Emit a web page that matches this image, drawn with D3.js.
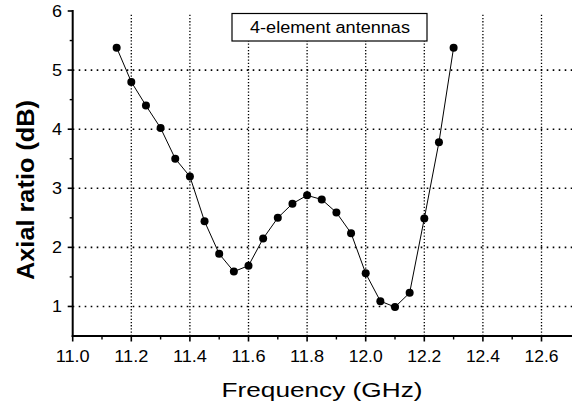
<!DOCTYPE html>
<html>
<head>
<meta charset="utf-8">
<script src="https://cdn.jsdelivr.net/npm/d3@7"></script>
<style>
  body { margin: 0; background: #fff; }
  text { font-family: Arial, "Liberation Sans", sans-serif; fill: #000; }
</style>
</head>
<body>
<svg id="chart" width="572" height="410"></svg>
<script>
// measured data: frequency (GHz) vs axial ratio (dB)
const freq = [11.15, 11.2, 11.25, 11.3, 11.35, 11.4, 11.45, 11.5, 11.55, 11.6,
  11.65, 11.7, 11.75, 11.8, 11.85, 11.9, 11.95, 12.0, 12.05, 12.1,
  12.15, 12.2, 12.25, 12.3];
const axialRatio = [5.38, 4.8, 4.4, 4.02, 3.5, 3.2, 2.44, 1.89, 1.59, 1.69,
  2.15, 2.5, 2.74, 2.88, 2.81, 2.59, 2.24, 1.56, 1.09, 0.99,
  1.23, 2.49, 3.78, 5.38];
const xTicks = [11.0, 11.2, 11.4, 11.6, 11.8, 12.0, 12.2, 12.4, 12.6];
const yTicks = [1, 2, 3, 4, 5, 6];
const legendLabel = "4-element antennas";

const svg = d3.select("#chart");
const margins = { left: 72.7, top: 11, right: 0, bottom: 74 };
const width = 572, height = 410;

const x = d3.scaleLinear().domain([11.0, 12.7]).range([margins.left, margins.left + 1.7 * 293]);
const y = d3.scaleLinear().domain([0.5, 6]).range([336, margins.top]);

// gridlines
const grid = svg.append("g").attr("stroke", "#000").attr("fill", "none");
grid.selectAll("line.h")
  .data(yTicks.filter(d => d < 6))
  .join("line")
  .attr("class", "h")
  .attr("x1", x(11.0)).attr("x2", width)
  .attr("y1", d => y(d)).attr("y2", d => y(d))
  .attr("stroke-width", 1.6)
  .attr("stroke-dasharray", "1.6,4.4");
grid.selectAll("line.v")
  .data(xTicks.filter(d => d > 11.0))
  .join("line")
  .attr("class", "v")
  .attr("x1", d => x(d)).attr("x2", d => x(d))
  .attr("y1", y(0.5)).attr("y2", 13)
  .attr("stroke-width", 1.3)
  .attr("stroke-dasharray", "1.3,1.9");

// legend box
const box = svg.append("g");
box.append("rect")
  .attr("x", 232).attr("y", 13.5).attr("width", 195).attr("height", 27.5)
  .attr("fill", "#fff").attr("stroke", "#000").attr("stroke-width", 1.2);
box.append("text")
  .attr("x", 330).attr("y", 33)
  .attr("text-anchor", "middle")
  .attr("font-size", 16)
  .attr("textLength", 160).attr("lengthAdjust", "spacingAndGlyphs")
  .text(legendLabel);

// axes
const xAxis = svg.append("g");
xAxis.append("line")
  .attr("x1", x(11.0) - 1).attr("x2", width)
  .attr("y1", y(0.5)).attr("y2", y(0.5))
  .attr("stroke", "#000").attr("stroke-width", 2);
xAxis.selectAll("line.major")
  .data(xTicks)
  .join("line")
  .attr("class", "major")
  .attr("x1", d => x(d)).attr("x2", d => x(d))
  .attr("y1", y(0.5)).attr("y2", y(0.5) + 5.5)
  .attr("stroke", "#000").attr("stroke-width", 1.6);
xAxis.selectAll("line.minor")
  .data(d3.range(0, 8).map(i => 11.1 + i * 0.2))
  .join("line")
  .attr("class", "minor")
  .attr("x1", d => x(d)).attr("x2", d => x(d))
  .attr("y1", y(0.5)).attr("y2", y(0.5) + 3.5)
  .attr("stroke", "#000").attr("stroke-width", 1.4);
xAxis.selectAll("text")
  .data(xTicks)
  .join("text")
  .attr("x", d => x(d))
  .attr("y", 362)
  .attr("text-anchor", "middle")
  .attr("font-size", 16)
  .attr("textLength", 34).attr("lengthAdjust", "spacingAndGlyphs")
  .text(d => d3.format(".1f")(d));

const yAxis = svg.append("g");
yAxis.append("line")
  .attr("x1", x(11.0)).attr("x2", x(11.0))
  .attr("y1", y(0.5) + 1).attr("y2", y(6) - 1)
  .attr("stroke", "#000").attr("stroke-width", 2);
yAxis.selectAll("line.major")
  .data(yTicks)
  .join("line")
  .attr("class", "major")
  .attr("x1", x(11.0) - 5).attr("x2", x(11.0))
  .attr("y1", d => y(d)).attr("y2", d => y(d))
  .attr("stroke", "#000").attr("stroke-width", 1.6);
yAxis.selectAll("line.minor")
  .data([1.5, 2.5, 3.5, 4.5, 5.5])
  .join("line")
  .attr("class", "minor")
  .attr("x1", x(11.0) - 3).attr("x2", x(11.0))
  .attr("y1", d => y(d)).attr("y2", d => y(d))
  .attr("stroke", "#000").attr("stroke-width", 1.4);
yAxis.selectAll("text")
  .data(yTicks)
  .join("text")
  .attr("x", 62)
  .attr("y", d => y(d) + 6)
  .attr("text-anchor", "end")
  .attr("font-size", 16)
  .attr("textLength", 10).attr("lengthAdjust", "spacingAndGlyphs")
  .text(d => d);

// axis titles
svg.append("text")
  .attr("x", 322).attr("y", 397)
  .attr("text-anchor", "middle")
  .attr("font-size", 21)
  .attr("textLength", 201).attr("lengthAdjust", "spacingAndGlyphs")
  .text("Frequency (GHz)");
svg.append("text")
  .attr("transform", "translate(34,190) rotate(-90)")
  .attr("text-anchor", "middle")
  .attr("font-size", 23)
  .attr("font-weight", "bold")
  .attr("textLength", 180).attr("lengthAdjust", "spacingAndGlyphs")
  .text("Axial ratio (dB)");

// data line + markers
const pts = freq.map((f, i) => [f, axialRatio[i]]);
svg.append("path")
  .datum(pts)
  .attr("fill", "none")
  .attr("stroke", "#000")
  .attr("stroke-width", 1)
  .attr("d", d3.line().x(d => x(d[0])).y(d => y(d[1])));
svg.append("g")
  .selectAll("circle")
  .data(pts)
  .join("circle")
  .attr("cx", d => x(d[0]))
  .attr("cy", d => y(d[1]))
  .attr("r", 4)
  .attr("fill", "#000");
</script>
</body>
</html>
